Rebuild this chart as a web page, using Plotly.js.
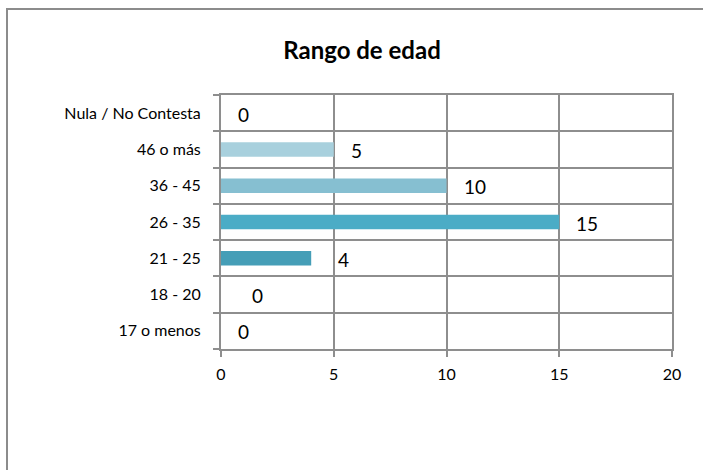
<!DOCTYPE html>
<html>
<head>
<meta charset="utf-8">
<script src="https://cdn.plot.ly/plotly-3.0.1.min.js"></script>
<style>
  html, body { margin:0; padding:0; width:703px; height:470px; overflow:hidden; background:#fff; }
  #frame { position:absolute; left:6px; top:8px; width:740px; height:500px; border:2px solid #8c8c8c; box-sizing:border-box; pointer-events:none; }
  #chart { position:absolute; left:0; top:0; width:703px; height:470px; }
</style>
</head>
<body>
<div id="chart"></div>
<div id="frame"></div>
<script>
// Data (bottom to top)
const categories = ["17 o menos", "18 - 20", "21 - 25", "26 - 35", "36 - 45", "46 o más", "Nula / No Contesta"];
const values = [0, 0, 4, 15, 10, 5, 0];
const barColors = ["#4a9fb8", "#4a9fb8", "#459eb7", "#4bacc6", "#86bfd1", "#a8d0dd", "#a8d0dd"];
const labelNudge = [0, 14, 10, 0, 0, 0, 0];
const xTicks = [0, 5, 10, 15, 20];
const chartTitle = "Rango de edad";

const FONT = "Lato, 'Open Sans', sans-serif";
const gridCol = "#8e8e8e";

const trace = {
  type: "bar",
  orientation: "h",
  x: values,
  y: categories,
  marker: { color: barColors, line: { width: 0 } },
  hoverinfo: "none",
  showlegend: false
};

const annotations = categories.map((c, i) => ({
  x: values[i], y: c, xref: "x", yref: "y",
  text: String(values[i]),
  showarrow: false, xanchor: "left", yanchor: "middle",
  xshift: 15 + labelNudge[i], yshift: -1,
  font: { family: FONT, size: 19, color: "#000" }
}));

const layout = {
  width: 703, height: 470,
  margin: { l: 221, r: 31, t: 95, b: 121 },
  paper_bgcolor: "rgba(0,0,0,0)",
  plot_bgcolor: "#fff",
  bargap: 0.6,
  title: {
    text: "<b>" + chartTitle + "</b>",
    font: { family: FONT, size: 24, color: "#000" },
    x: 362 / 703, xanchor: "center", xref: "container",
    y: 1 - 51 / 470, yanchor: "middle", yref: "container"
  },
  xaxis: {
    range: [0, 20], tickvals: xTicks, ticktext: xTicks.map(String),
    showgrid: true, gridcolor: gridCol, gridwidth: 2,
    showline: true, linecolor: gridCol, linewidth: 2, mirror: true,
    ticks: "outside", ticklen: 6, tickcolor: gridCol, tickwidth: 2,
    tickfont: { family: FONT, size: 16, color: "#000" },
    ticklabelstandoff: 4,
    zeroline: false, fixedrange: true
  },
  yaxis: {
    type: "category",
    categoryorder: "array", categoryarray: categories,
    tickson: "boundaries",
    showgrid: true, gridcolor: gridCol, gridwidth: 2,
    showline: true, linecolor: gridCol, linewidth: 2, mirror: true,
    ticks: "outside", ticklen: 6, tickcolor: gridCol, tickwidth: 2,
    tickfont: { family: FONT, size: 16, color: "#000" },
    ticklabelstandoff: 15,
    zeroline: false, fixedrange: true
  },
  annotations: annotations,
  font: { family: FONT }
};

Plotly.newPlot("chart", [trace], layout, { staticPlot: true, displayModeBar: false });
</script>
</body>
</html>
